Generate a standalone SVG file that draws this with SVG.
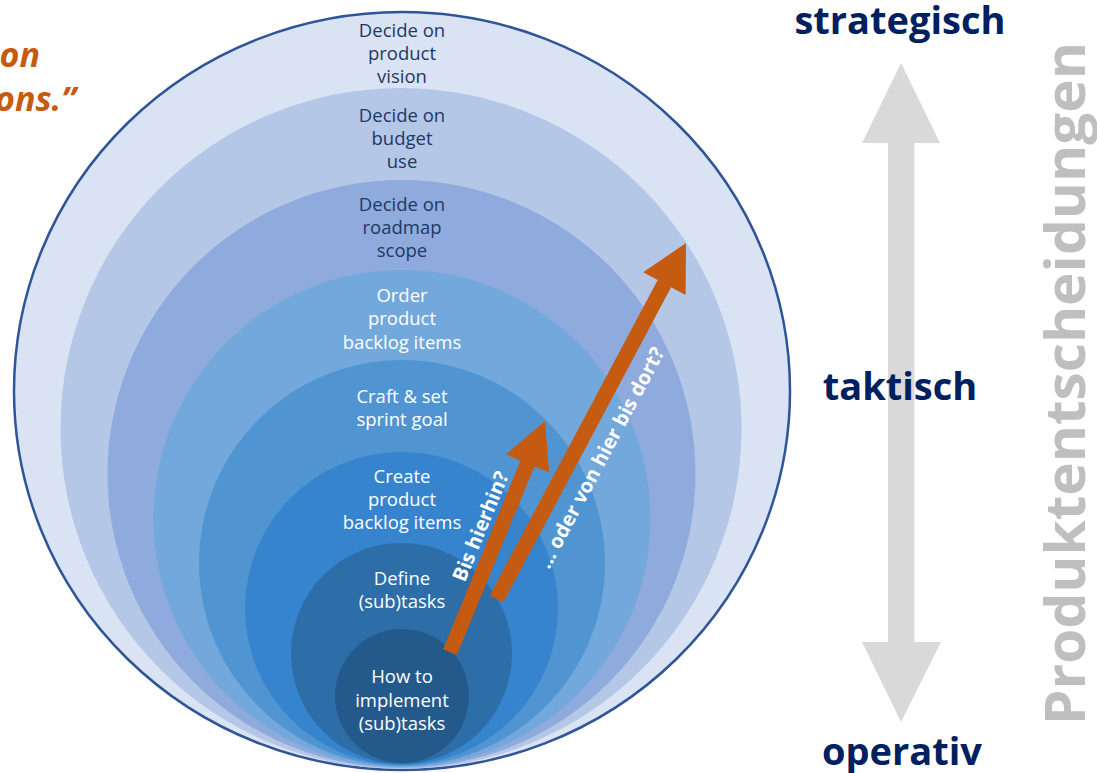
<svg xmlns="http://www.w3.org/2000/svg" width="1097" height="773" viewBox="0 0 1097 773">
<style>
.lbl{font-family:"Open Sans","Noto Sans",sans-serif;font-size:18.5px;text-anchor:middle}
.dark{fill:#1f3864}
.light{fill:#ffffff}
.level{font-family:"Open Sans","Noto Sans",sans-serif;font-weight:bold;font-size:38px;fill:#002060;text-anchor:middle}
.arrowlbl{font-family:"Open Sans","Noto Sans",sans-serif;font-weight:bold;font-size:20px;fill:#ffffff;text-anchor:middle}
.orange{fill:#c55a11}
</style>
<rect width="1097" height="773" fill="#ffffff"/>
<g id="quote">
<text x="40" y="67" font-family="Open Sans, sans-serif" font-weight="bold" font-style="italic" font-size="34" fill="#c55a11" text-anchor="end">on</text>
<text x="76" y="111" font-family="Open Sans, sans-serif" font-weight="bold" font-style="italic" font-size="34" fill="#c55a11" text-anchor="end">ons.”</text>
</g>
<g id="ring1">
<ellipse cx="402" cy="391" rx="388" ry="379" fill="#dae3f3" stroke="#2f5597" stroke-width="2.5"/>
<text class="lbl dark" x="402" y="37">Decide on</text>
<text class="lbl dark" x="402" y="60">product</text>
<text class="lbl dark" x="402" y="83">vision</text>
</g>
<g id="ring2">
<circle cx="401" cy="428.5" r="340.5" fill="#b4c7e7"/>
<text class="lbl dark" x="402" y="122">Decide on</text>
<text class="lbl dark" x="402" y="145">budget</text>
<text class="lbl dark" x="402" y="168">use</text>
</g>
<g id="ring3">
<circle cx="401.5" cy="474" r="294" fill="#8faadc"/>
<text class="lbl dark" x="402" y="211">Decide on</text>
<text class="lbl dark" x="402" y="234">roadmap</text>
<text class="lbl dark" x="402" y="257">scope</text>
</g>
<g id="ring4">
<circle cx="402" cy="518.5" r="248.5" fill="#72a8db"/>
<text class="lbl light" x="402" y="302">Order</text>
<text class="lbl light" x="402" y="325">product</text>
<text class="lbl light" x="402" y="349">backlog items</text>
</g>
<g id="ring5">
<circle cx="402" cy="563" r="203" fill="#5095d1"/>
<text class="lbl light" x="402" y="403">Craft &amp; set</text>
<text class="lbl light" x="402" y="426">sprint goal</text>
</g>
<g id="ring6">
<circle cx="401.5" cy="608.5" r="156.5" fill="#3584cd"/>
<text class="lbl light" x="402" y="483">Create</text>
<text class="lbl light" x="402" y="506">product</text>
<text class="lbl light" x="402" y="529">backlog items</text>
</g>
<g id="ring7">
<circle cx="401.5" cy="653.5" r="110.5" fill="#2d6da8"/>
<text class="lbl light" x="402" y="585">Define</text>
<text class="lbl light" x="402" y="608">(sub)tasks</text>
</g>
<g id="ring8">
<circle cx="402" cy="696" r="67" fill="#245a8b"/>
<text class="lbl light" x="402" y="683">How to</text>
<text class="lbl light" x="402" y="707">implement</text>
<text class="lbl light" x="402" y="730">(sub)tasks</text>
</g>
<g id="connectors">
<polygon class="orange" points="443.1,649.2 520.6,460.6 505.8,454.6 545,421 549.2,472.4 534.4,466.4 456.9,654.9"/>
<polygon class="orange" points="489.8,595.4 657.7,280 643.2,272.3 686,243 685.6,294.9 671.1,287.2 503.2,602.6"/>
</g>
<g id="arrow-labels">
<text class="arrowlbl" transform="translate(487,529) rotate(-67.6)">Bis hierhin?</text>
<text class="arrowlbl" transform="translate(607,461) rotate(-62)">… oder von hier bis dort?</text>
</g>
<g id="scale-arrow">
<polygon fill="#d9d9d9" points="901,63 940,143 914.5,143 914.5,642 941,642 901,722 862,642 888,642 888,143 862,143"/>
</g>
<g id="levels">
<text class="level" x="900" y="34">strategisch</text>
<text class="level" x="900" y="400">taktisch</text>
<text class="level" x="902" y="765">operativ</text>
</g>
<g id="axis-title">
<text transform="translate(1085,383.5) rotate(-90)" font-family="Open Sans, sans-serif" font-weight="bold" font-size="56" fill="#bfbfbf" text-anchor="middle" textLength="683" lengthAdjust="spacingAndGlyphs">Produktentscheidungen</text>
</g>
</svg>
